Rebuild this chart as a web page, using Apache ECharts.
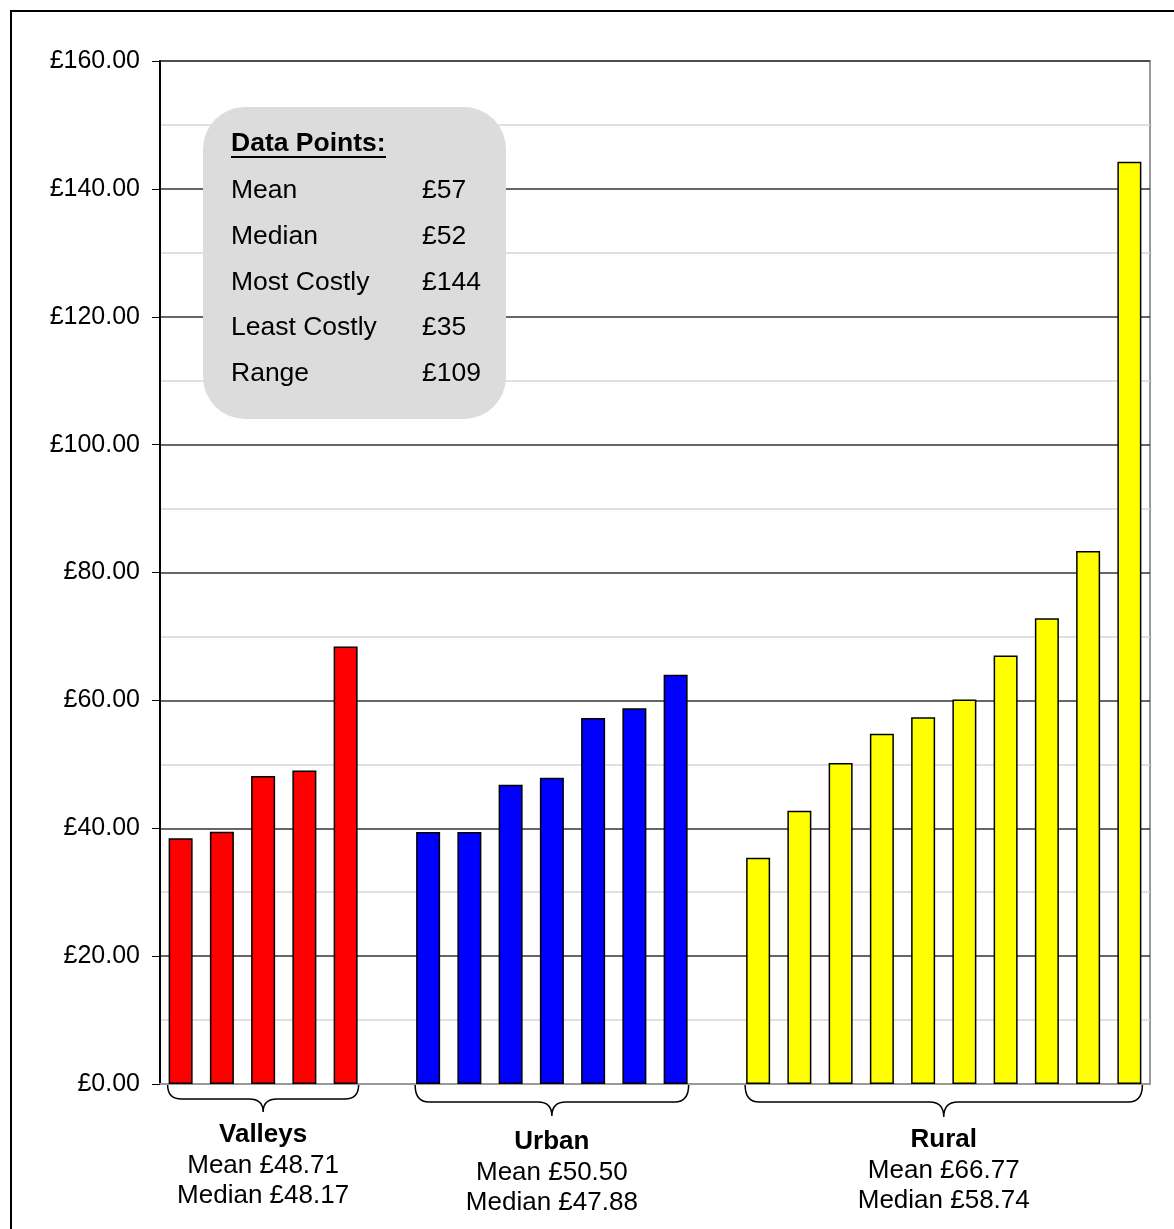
<!DOCTYPE html>
<html>
<head>
<meta charset="utf-8">
<title>Cost per point</title>
<script src="https://cdn.jsdelivr.net/npm/echarts@6/dist/echarts.min.js"></script>
<style>
  html, body { margin: 0; padding: 0; background: #fff; }
  #chart { width: 1174px; height: 1229px; }
</style>
</head>
<body>
<div id="chart"></div>
<script>
// data
const valleys = [38.45, 39.45, 48.17, 49.05, 68.43];
const urban = [39.4, 39.4, 46.8, 47.88, 57.25, 58.75, 64.02];
const rural = [35.37, 42.72, 50.2, 54.79, 57.35, 60.13, 67.03, 72.86, 83.35, 144.25];

const groupNames = ['Valleys', 'Urban', 'Rural'];
const groupMeans = ['£48.71', '£50.50', '£66.77'];
const groupMedians = ['£48.17', '£47.88', '£58.74'];
const groupColors = ['#ff0000', '#0000ff', '#ffff00'];

const summaryLabels = ['Mean', 'Median', 'Most Costly', 'Least Costly', 'Range'];
const summaryValues = ['£57', '£52', '£144', '£35', '£109'];

const yTicks = [0, 20, 40, 60, 80, 100, 120, 140, 160];

// one empty category between the groups
const groups = [valleys, urban, rural];
const categories = [];
const spans = [];
groups.forEach((g, gi) => {
  if (gi > 0) categories.push('');
  const start = categories.length;
  g.forEach((v, i) => categories.push(groupNames[gi] + ' ' + (i + 1)));
  spans.push([start, categories.length - 1, gi]);
});

const seriesData = groups.map((g, gi) => {
  const arr = categories.map(() => '-');
  g.forEach((v, i) => { arr[spans[gi][0] + i] = v; });
  return arr;
});

const BAR_W = 24;
const FONT = 'Liberation Sans, Arial, sans-serif';
// how far each group's brace / text sits below the axis
const braceDrop = [[15, 28, 51], [18, 32, 58], [18, 33, 56]];

const chart = echarts.init(document.getElementById('chart'));

const option = {
  animation: false,
  backgroundColor: '#fff',
  grid: {
    left: 160, right: 24, top: 61, bottom: 145,
    show: true, borderColor: '#999', borderWidth: 2
  },
  xAxis: {
    type: 'category',
    data: categories,
    axisTick: { show: false },
    axisLabel: { show: false },
    axisLine: { lineStyle: { color: '#999', width: 2 } },
    splitLine: { show: false }
  },
  yAxis: {
    type: 'value',
    min: yTicks[0],
    max: yTicks[yTicks.length - 1],
    interval: yTicks[1] - yTicks[0],
    axisLine: { show: true, lineStyle: { color: '#000', width: 2 } },
    axisTick: { show: true, length: 8, lineStyle: { color: '#000', width: 1 } },
    axisLabel: {
      margin: 20,
      fontFamily: FONT,
      fontSize: 25,
      color: '#000',
      formatter: (v) => '£' + v.toFixed(2)
    },
    splitLine: { show: true, lineStyle: { color: '#333', width: 1.5 } },
    minorTick: { show: false, splitNumber: 2 },
    minorSplitLine: { show: true, lineStyle: { color: '#d6d6d6', width: 1.5 } }
  },
  series: [
    ...seriesData.map((d, gi) => ({
      name: groupNames[gi],
      type: 'bar',
      stack: 'all',
      barWidth: BAR_W,
      data: d,
      itemStyle: { color: groupColors[gi], borderColor: '#000', borderWidth: 1.5 }
    })),
    {
      // braces and captions under each group
      type: 'custom',
      clip: false,
      silent: true,
      z: 5,
      data: spans,
      renderItem: (params, api) => {
        const gi = api.value(2);
        const a = api.coord([api.value(0), 0]);
        const b = api.coord([api.value(1), 0]);
        const x0 = a[0] - BAR_W / 2 - 1;
        const x1 = b[0] + BAR_W / 2 + 1;
        const xm = (x0 + x1) / 2;
        const y0 = a[1] + 1;
        const yh = a[1] + braceDrop[gi][0];
        const yt = a[1] + braceDrop[gi][1];
        const yText = a[1] + braceDrop[gi][2];
        const r = 14;
        const d = 'M' + x0 + ' ' + y0 +
          ' Q' + x0 + ' ' + yh + ' ' + (x0 + r) + ' ' + yh +
          ' L' + (xm - r) + ' ' + yh +
          ' Q' + xm + ' ' + yh + ' ' + xm + ' ' + yt +
          ' Q' + xm + ' ' + yh + ' ' + (xm + r) + ' ' + yh +
          ' L' + (x1 - r) + ' ' + yh +
          ' Q' + x1 + ' ' + yh + ' ' + x1 + ' ' + y0;
        const txt = (s, y, bold) => ({
          type: 'text',
          style: {
            text: s, x: xm, y: y,
            font: (bold ? 'bold ' : '') + '26px ' + FONT,
            fill: '#000',
            align: 'center', verticalAlign: 'middle',
            textAlign: 'center', textVerticalAlign: 'middle'
          }
        });
        return {
          type: 'group',
          children: [
            { type: 'path', shape: { pathData: d }, style: { fill: 'none', stroke: '#000', lineWidth: 1.5 } },
            txt(groupNames[gi], yText, true),
            txt('Mean ' + groupMeans[gi], yText + 31, false),
            txt('Median ' + groupMedians[gi], yText + 61, false)
          ]
        };
      }
    }
  ],
  graphic: [
    {
      type: 'rect',
      z: 100,
      shape: { x: 11, y: 11, width: 1200, height: 1260 },
      style: { fill: 'none', stroke: '#000', lineWidth: 2 }
    },
    {
      type: 'rect',
      z: 50,
      shape: { x: 203, y: 107, width: 303, height: 312, r: 42 },
      style: { fill: '#dcdcdc', stroke: 'none' }
    },
    {
      type: 'text',
      z: 51,
      style: {
        text: 'Data Points:', x: 231, y: 144,
        font: 'bold 26.5px ' + FONT, fill: '#000',
        verticalAlign: 'middle', textVerticalAlign: 'middle'
      }
    },
    {
      type: 'line',
      z: 51,
      shape: { x1: 231, y1: 157, x2: 386, y2: 157 },
      style: { stroke: '#000', lineWidth: 2 }
    },
    ...summaryLabels.map((s, i) => ({
      type: 'text',
      z: 51,
      style: {
        text: s, x: 231, y: 191 + i * 45.6,
        font: '26.5px ' + FONT, fill: '#000',
        verticalAlign: 'middle', textVerticalAlign: 'middle'
      }
    })),
    ...summaryValues.map((s, i) => ({
      type: 'text',
      z: 51,
      style: {
        text: s, x: 422, y: 191 + i * 45.6,
        font: '26.5px ' + FONT, fill: '#000',
        verticalAlign: 'middle', textVerticalAlign: 'middle'
      }
    }))
  ]
};

chart.setOption(option);
</script>
</body>
</html>
